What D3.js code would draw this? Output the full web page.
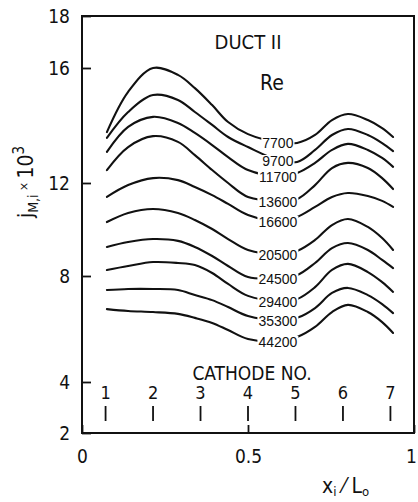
<!DOCTYPE html>
<html><head><meta charset="utf-8">
<script src="https://cdn.jsdelivr.net/npm/d3@7"></script>
<style>
html,body{margin:0;padding:0;background:#fff;}
svg{display:block;}
text{font-family:"Liberation Sans Narrow","DejaVu Sans Condensed","Liberation Sans",sans-serif;fill:#111;}
</style></head><body>
<svg id="chart" width="418" height="502"></svg>
<script>
// ---- data ----
const xPositions = [0.075,0.139,0.214,0.289,0.340,0.392,0.440,0.500,0.590,0.648,0.702,0.753,0.801,0.861,0.904,0.937];
const reynoldsNumbers = [7700,9700,11700,13600,16600,20500,24500,29400,35300,44200];
const j7700  = [13.77,15.17,16.00,15.76,15.30,14.71,14.12,13.70,13.42,13.39,13.67,14.19,14.40,14.19,13.91,13.60];
const j9700  = [13.57,14.47,15.06,14.89,14.47,14.02,13.60,13.25,12.80,12.73,13.15,13.67,13.88,13.67,13.39,13.11];
const j11700 = [13.08,13.95,14.30,14.09,13.74,13.32,12.90,12.45,12.24,12.35,12.70,13.15,13.36,13.15,12.87,12.56];
const j13600 = [12.45,13.25,13.63,13.43,12.97,12.45,12.00,11.40,11.23,11.31,11.91,12.52,12.70,12.52,12.17,11.74];
const j16600 = [11.40,11.91,12.17,12.10,11.83,11.48,11.10,10.62,10.37,10.54,10.97,11.40,11.57,11.44,11.23,10.97];
const j20500 = [10.32,10.71,10.88,10.71,10.41,10.02,9.59,9.12,8.95,9.08,9.55,10.19,10.45,10.11,9.63,9.12];
const j24500 = [9.25,9.46,9.59,9.51,9.25,8.86,8.43,7.96,7.92,8.04,8.56,9.20,9.42,9.12,8.69,8.34];
const j29400 = [8.26,8.43,8.60,8.56,8.47,8.13,7.70,7.25,7.06,7.13,7.58,8.26,8.52,8.17,7.77,7.40];
const j35300 = [7.47,7.51,7.51,7.47,7.28,7.09,6.83,6.49,6.34,6.42,6.79,7.36,7.55,7.28,6.94,6.60];
const j44200 = [6.75,6.68,6.64,6.57,6.42,6.23,5.96,5.62,5.55,5.70,6.08,6.64,6.91,6.64,6.26,5.85];
const yTickValues = [2,4,8,12,16,18];
const xTickValues = [0,0.5,1];
const xTickLabels = ["0","0.5","1"];
const cathodeNumbers = [1,2,3,4,5,6,7];
const cathodePositions = [0.071,0.214,0.357,0.5,0.643,0.786,0.929];
const labelAt = 0.590;

const seriesValues = [j7700,j9700,j11700,j13600,j16600,j20500,j24500,j29400,j35300,j44200];
const series = reynoldsNumbers.map((re,i)=>({re, values: seriesValues[i]}));

// ---- chart ----
const svg = d3.select("#chart");
const x = d3.scaleLinear().domain([0,1]).range([82,414]);
const y = d3.scaleLinear().domain([2,4,8,12,16,18]).range([433,382,276,183,68,16]);

// y axis
const gy = svg.append("g").attr("transform","translate(82,0)")
  .call(d3.axisLeft(y).tickValues(yTickValues).tickSize(-9).tickPadding(12).tickFormat(d3.format("d")));
gy.select(".domain").remove();
gy.selectAll(".tick line").attr("stroke","#111").attr("stroke-width",1.8);
gy.selectAll(".tick text").attr("font-size",19).attr("font-family",null);

// x axis
const gx = svg.append("g").attr("transform","translate(0,433)")
  .call(d3.axisBottom(x).tickValues(xTickValues).tickSize(-8).tickPadding(17).tickFormat((d,i)=>xTickLabels[i]));
gx.select(".domain").remove();
gx.selectAll(".tick line").attr("stroke","#111").attr("stroke-width",1.8);
gx.selectAll(".tick text").attr("font-size",19).attr("font-family",null)
  .attr("dx",d=>d===1?-3:0);

// frame
svg.append("rect").attr("x",x(0)).attr("y",y(18)).attr("width",x(1)-x(0)).attr("height",y(2)-y(18))
  .attr("fill","none").attr("stroke","#111").attr("stroke-width",2);

// curves
const line = d3.line().x((d,i)=>x(xPositions[i])).y(d=>y(d)).curve(d3.curveCatmullRom.alpha(0.5));
svg.append("g").selectAll("path").data(series).join("path")
  .attr("d",d=>line(d.values)).attr("fill","none").attr("stroke","#111")
  .attr("stroke-width",2.1).attr("stroke-linecap","round");

// curve labels with white masks
const li = xPositions.indexOf(labelAt);
const lg = svg.append("g");
series.forEach(s=>{
  const cy = y(s.values[li]) + 1;
  const g = lg.append("g");
  const r = g.append("rect").attr("fill","#fff");
  const t = g.append("text").attr("x",x(labelAt)).attr("y",cy).attr("dy","0.36em")
    .attr("text-anchor","middle").attr("font-size",14)
    .style("font-family","'Liberation Sans',Arial,sans-serif").text(s.re);
  const w = t.node().getComputedTextLength();
  r.attr("x",x(labelAt)-w/2-1).attr("y",cy-6).attr("width",w+2).attr("height",12);
});

// cathode markers
const cg = svg.append("g");
cg.selectAll("line").data(cathodePositions).join("line")
  .attr("x1",d=>x(d)).attr("x2",d=>x(d)).attr("y1",406).attr("y2",421)
  .attr("stroke","#111").attr("stroke-width",1.8);
cg.selectAll("text").data(cathodeNumbers).join("text")
  .attr("x",(d,i)=>x(cathodePositions[i])).attr("y",393).attr("dy","0.36em")
  .attr("text-anchor","middle").attr("font-size",18).text(d=>d);
svg.append("text").attr("x",252).attr("y",373).attr("dy","0.36em").attr("text-anchor","middle")
  .attr("font-size",19).text("CATHODE NO.");

// titles
svg.append("text").attr("x",248).attr("y",42).attr("dy","0.36em").attr("text-anchor","middle")
  .attr("font-size",20).text("DUCT II");
svg.append("text").attr("x",260).attr("y",82).attr("dy","0.36em").attr("text-anchor","start")
  .attr("font-size",21).text("Re");

// x axis title
const xt = svg.append("text").attr("x",322).attr("y",493).attr("font-size",21);
xt.append("tspan").text("x");
xt.append("tspan").attr("font-size",13).attr("dy",3).text("i");
xt.append("tspan").attr("dy",-3).text(" \u2044 L");
xt.append("tspan").attr("font-size",13).attr("dy",3).text("o");

// y axis title
const yt = svg.append("text").attr("transform","translate(33,218) rotate(-90)").attr("font-size",21);
yt.append("tspan").text("j");
yt.append("tspan").attr("font-size",14).attr("dy",5).text("M,i");
yt.append("tspan").attr("font-size",12).attr("dy",-10).text(" \u00d7 ");
yt.append("tspan").attr("dy",5).text("10");
yt.append("tspan").attr("font-size",15).attr("dy",-9).text("3");
</script>
</body></html>
